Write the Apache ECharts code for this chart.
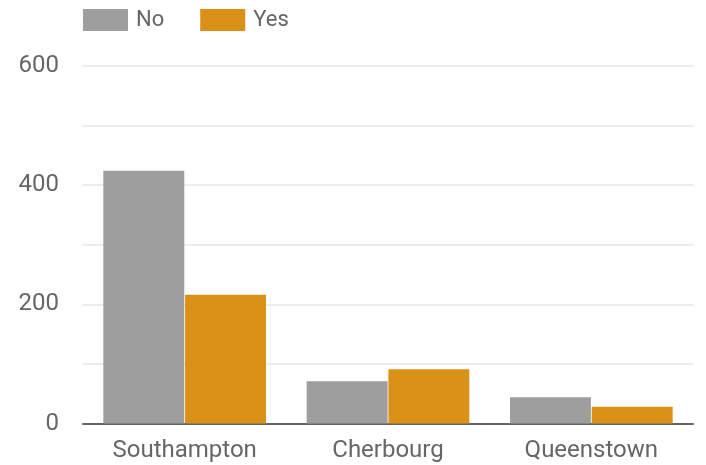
<!DOCTYPE html>
<html>
<head>
<meta charset="utf-8">
<script src="https://cdn.jsdelivr.net/npm/echarts@6/dist/echarts.min.js"></script>
<style>
  html, body { margin: 0; padding: 0; background: #fff; }
  #chart { width: 706px; height: 465px; }
</style>
</head>
<body>
<div id="chart"></div>
<script>
// Passengers by port of embarkation, split by survival
const categories = ['Southampton', 'Cherbourg', 'Queenstown'];
const seriesNames = ['No', 'Yes'];
const noValues = [424, 71, 44];
const yesValues = [216, 91, 28];
const yTickLabels = [0, 200, 400, 600];

const chart = echarts.init(document.getElementById('chart'));
const font = 'Roboto, sans-serif';

chart.setOption({
  animation: false,
  textStyle: { fontFamily: font },
  legend: {
    data: seriesNames,
    left: 83,
    top: 9,
    padding: 0,
    itemWidth: 45,
    itemHeight: 22,
    itemGap: 36,
    icon: 'rect',
    textStyle: { fontSize: 22, color: '#666', fontFamily: font, padding: [0, 0, 0, 3] }
  },
  grid: { left: 83, right: 13, top: 66, bottom: 41.5, containLabel: false },
  xAxis: {
    type: 'category',
    data: categories,
    axisTick: { show: false },
    axisLine: { lineStyle: { color: '#666', width: 2 } },
    axisLabel: { fontSize: 24, color: '#666', margin: 15, fontFamily: font }
  },
  yAxis: {
    type: 'value',
    min: 0,
    max: 600,
    interval: 100,
    axisLine: { show: false },
    axisTick: { show: false },
    splitLine: { lineStyle: { color: '#e6e6e6', width: 1.5 } },
    axisLabel: {
      fontSize: 24,
      color: '#666',
      margin: 24,
      fontFamily: font,
      formatter: v => (yTickLabels.indexOf(v) >= 0 ? String(v) : '')
    }
  },
  series: [
    {
      name: seriesNames[0],
      type: 'bar',
      data: noValues,
      itemStyle: { color: '#9e9e9e' },
      barCategoryGap: '20%',
      barGap: '1%'
    },
    {
      name: seriesNames[1],
      type: 'bar',
      data: yesValues,
      itemStyle: { color: '#d99118' },
      barCategoryGap: '20%',
      barGap: '1%'
    }
  ]
});
</script>
</body>
</html>
